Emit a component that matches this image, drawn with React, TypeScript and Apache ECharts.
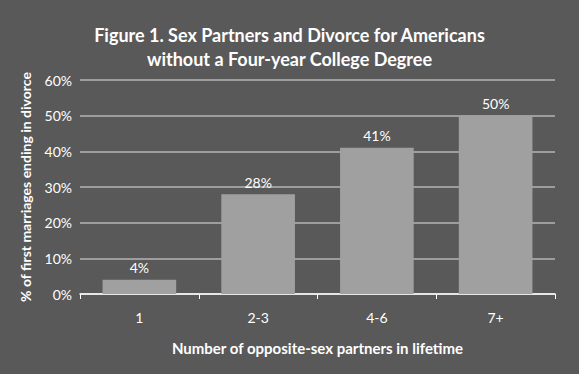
import React, { useEffect, useRef } from "react";
import * as echarts from "echarts";

const categories = ["1", "2-3", "4-6", "7+"];
const divorceRates = [4, 28, 41, 50];
const yTicks = [0, 10, 20, 30, 40, 50, 60];
const titleLines = [
  "Figure 1. Sex Partners and Divorce for Americans",
  "without a Four-year College Degree",
];
const xAxisName = "Number of opposite-sex partners in lifetime";
const yAxisName = "% of first marriages ending in divorce";

export default function App() {
  const ref = useRef<HTMLDivElement>(null);
  useEffect(() => {
    document.body.style.margin = "0";
    if (!ref.current) return;
    const chart = echarts.init(ref.current, null, { renderer: "svg" });
    chart.setOption({
      animation: false,
      backgroundColor: "#595959",
      textStyle: { fontFamily: "Lato, 'Open Sans', sans-serif" },
      title: {
        text: titleLines.join("\n"),
        left: "center",
        top: 18,
        textStyle: {
          color: "#ffffff",
          fontSize: 18,
          fontWeight: "bold",
          lineHeight: 24,
          fontFamily: "Lato, 'Open Sans', sans-serif",
        },
      },
      grid: { left: 80, right: 24, top: 80, bottom: 80 },
      xAxis: {
        type: "category",
        data: categories,
        name: xAxisName,
        nameLocation: "middle",
        nameGap: 46,
        nameTextStyle: { color: "#ffffff", fontSize: 15, fontWeight: "bold" },
        axisLine: { lineStyle: { color: "#ffffff", width: 1.5 } },
        axisTick: { show: true, lineStyle: { color: "#ffffff" } },
        axisLabel: { color: "#ffffff", fontSize: 14, margin: 16 },
      },
      yAxis: {
        type: "value",
        min: yTicks[0],
        max: yTicks[yTicks.length - 1],
        interval: 10,
        name: yAxisName,
        nameLocation: "middle",
        nameGap: 48,
        nameTextStyle: { color: "#ffffff", fontSize: 14, fontWeight: "bold" },
        axisLine: { show: false },
        axisTick: { show: false },
        axisLabel: { color: "#ffffff", fontSize: 14, formatter: "{value}%" },
        splitLine: { lineStyle: { color: "#b5b5b5", width: 1.5 } },
      },
      series: [
        {
          type: "bar",
          data: divorceRates,
          barWidth: "62%",
          itemStyle: { color: "#a0a0a0" },
          label: {
            show: true,
            position: "top",
            color: "#ffffff",
            fontSize: 14,
            formatter: "{c}%",
          },
        },
      ],
    });
    return () => chart.dispose();
  }, []);
  return <div ref={ref} style={{ width: 579, height: 374 }} />;
}
